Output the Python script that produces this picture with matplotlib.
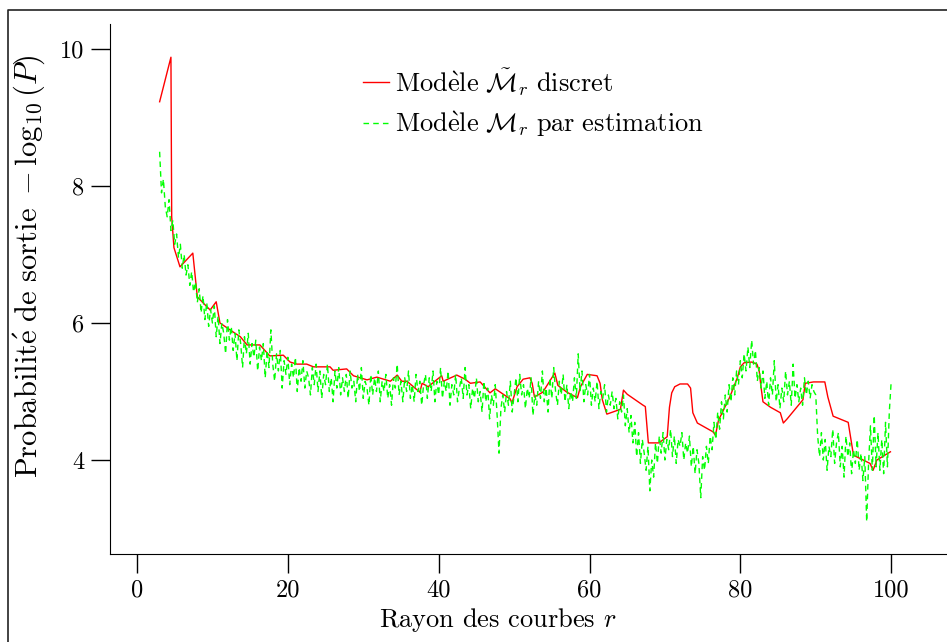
import matplotlib
matplotlib.use("Agg")
import matplotlib.pyplot as plt
from matplotlib.lines import Line2D

plt.rcParams['font.family'] = ['cmr10', 'DejaVu Serif']
plt.rcParams['mathtext.fontset'] = 'cm'
plt.rcParams['axes.unicode_minus'] = False

# discrete model (red)
red_x = [3.0, 4.5, 4.6, 4.9, 5.7, 7.4, 8.0, 9.7, 10.5, 11.0, 13.0, 13.7, 14.6, 16.3,
         17.6, 19.4, 20.3, 21.2, 22.5, 23.4, 25.6, 26.0, 27.8, 28.7, 30.5, 31.8,
         33.6, 34.5, 35.1, 35.8, 37.5, 37.8, 38.6, 40.4, 40.6, 42.4, 43.5, 44.2,
         45.5, 46.8, 47.5, 49.5, 49.7, 50.4, 51.2, 52.1, 52.4, 52.7, 53.8, 55.4,
         55.8, 57.0, 58.4, 58.8, 59.7, 61.0, 61.4, 61.7, 62.3, 64.1, 64.5, 65.0,
         67.1, 67.4, 67.8, 69.2, 70.3, 70.6, 70.9, 71.3, 72.0, 73.0, 73.4, 73.7,
         74.3, 76.4, 76.7, 77.1, 78.6, 79.6, 80.0, 80.5, 81.5, 82.2, 82.5, 82.7,
         83.0, 84.0, 85.3, 85.7, 86.2, 88.3, 88.6, 89.7, 91.2, 91.6, 92.3, 94.3,
         95.0, 97.2, 97.6, 98.1, 99.9]
red_y = [9.23, 9.88, 7.55, 7.10, 6.82, 7.02, 6.38, 6.19, 6.31, 6.00, 5.85, 5.80, 5.68, 5.68,
         5.52, 5.53, 5.43, 5.40, 5.40, 5.36, 5.36, 5.31, 5.33, 5.23, 5.17, 5.21,
         5.15, 5.24, 5.15, 5.15, 4.99, 5.12, 5.07, 5.23, 5.15, 5.24, 5.18, 5.12,
         5.14, 4.98, 5.04, 4.89, 4.83, 5.07, 5.18, 5.20, 5.12, 4.92, 4.99, 5.27,
         5.09, 4.99, 4.91, 5.07, 5.25, 5.23, 5.12, 4.88, 4.67, 4.74, 5.02, 4.96,
         4.80, 4.78, 4.25, 4.25, 4.34, 4.77, 4.98, 5.07, 5.11, 5.11, 5.05, 4.69,
         4.54, 4.41, 4.36, 4.58, 4.92, 5.20, 5.36, 5.42, 5.43, 5.40, 5.30, 5.10,
         4.85, 4.77, 4.69, 4.54, 4.60, 4.88, 5.12, 5.14, 5.14, 4.92, 4.64, 4.55,
         4.07, 3.95, 3.85, 4.00, 4.12]

# estimated model (green), sampled every 0.25 from r = 3 to r = 100
green_y = [8.50, 7.90, 8.10, 7.70, 7.55, 7.80, 7.35, 7.50, 7.15, 7.30,
           6.95, 7.15, 6.80, 7.00, 6.70, 6.85, 6.55, 6.75, 6.45, 6.60,
           6.30, 6.50, 6.15, 6.40, 6.05, 6.30, 5.95, 6.20, 6.00, 6.25,
           5.80, 6.10, 5.70, 6.00, 5.85, 5.55, 6.05, 5.75, 5.95, 5.60,
           5.85, 5.45, 5.90, 5.70, 5.35, 5.80, 5.55, 5.85, 5.40, 5.70,
           5.50, 5.75, 5.30, 5.65, 5.45, 5.70, 5.20, 5.60, 5.35, 5.90,
           5.40, 5.15, 5.55, 5.30, 5.60, 5.05, 5.45, 5.25, 5.50, 5.10,
           5.40, 5.20, 5.50, 5.00, 5.35, 5.15, 5.45, 5.05, 5.30, 5.20,
           4.95, 5.35, 5.10, 5.40, 5.00, 5.30, 4.90, 5.25, 5.10, 5.40,
           5.00, 5.20, 4.85, 5.30, 5.05, 5.35, 4.95, 5.20, 5.00, 5.25,
           4.90, 5.30, 5.05, 5.15, 4.85, 5.25, 5.00, 5.35, 4.90, 5.15,
           5.05, 4.80, 5.25, 4.95, 5.20, 5.00, 5.30, 4.85, 5.15, 5.00,
           5.25, 4.90, 5.10, 4.80, 5.20, 5.05, 5.40, 4.95, 5.15, 4.85,
           5.20, 5.00, 5.30, 4.90, 5.10, 4.85, 5.25, 5.00, 5.15, 4.80,
           5.10, 5.25, 4.90, 5.20, 5.00, 5.30, 4.85, 5.15, 4.95, 5.35,
           4.90, 5.15, 5.00, 5.30, 4.80, 5.10, 4.95, 5.25, 4.85, 5.05,
           5.20, 4.90, 5.35, 4.95, 5.10, 4.75, 5.05, 4.90, 5.20, 4.85,
           5.00, 4.70, 5.15, 4.85, 5.05, 4.60, 4.95, 4.80, 5.10, 4.65,
           4.10, 4.75, 4.95, 4.70, 5.00, 4.80, 5.15, 4.70, 4.95, 5.20,
           4.85, 5.25, 4.95, 5.10, 4.75, 5.05, 4.90, 5.20, 4.65, 4.95,
           4.80, 5.15, 4.90, 5.30, 4.85, 5.05, 4.70, 5.20, 4.90, 5.35,
           5.00, 4.80, 5.15, 4.95, 5.25, 4.85, 5.10, 4.75, 5.00, 4.85,
           5.20, 4.90, 5.55, 5.00, 5.30, 4.85, 5.10, 4.95, 5.25, 4.80,
           5.05, 4.85, 5.15, 4.75, 5.00, 4.90, 5.10, 4.70, 4.95, 4.80,
           5.00, 4.75, 4.90, 4.60, 4.85, 4.70, 4.95, 4.50, 4.75, 4.40,
           4.65, 4.25, 4.55, 4.05, 4.40, 3.95, 4.30, 4.10, 3.85, 4.20,
           3.55, 4.00, 3.75, 4.25, 3.95, 4.35, 4.10, 4.40, 4.00, 4.30,
           4.15, 4.45, 4.05, 4.35, 3.95, 4.30, 4.20, 4.40, 4.00, 4.25,
           4.10, 4.35, 3.90, 4.20, 3.80, 4.15, 3.95, 3.45, 4.05, 3.85,
           4.20, 3.95, 4.35, 4.15, 4.55, 4.30, 4.70, 4.45, 4.85, 4.60,
           4.95, 4.70, 5.10, 4.85, 5.20, 4.95, 5.30, 5.10, 5.45, 5.20,
           5.55, 5.30, 5.65, 5.35, 5.75, 5.40, 5.60, 5.15, 5.35, 5.05,
           5.30, 4.90, 5.15, 4.80, 5.20, 4.95, 5.45, 4.85, 5.10, 4.75,
           5.05, 4.85, 5.30, 4.95, 5.15, 4.80, 5.40, 4.90, 5.10, 4.85,
           5.05, 4.80, 5.20, 4.95, 5.15, 4.90, 5.10, 5.00, 4.95, 4.35,
           4.05, 4.40, 4.00, 4.30, 3.85, 4.20, 4.05, 4.45, 3.95, 4.25,
           4.40, 3.90, 4.20, 3.75, 4.35, 4.05, 4.25, 3.80, 4.15, 3.95,
           4.30, 3.85, 4.10, 3.70, 4.05, 3.10, 3.95, 4.50, 3.85, 4.65,
           3.90, 4.40, 3.85, 4.30, 3.80, 4.55, 3.90, 4.70, 5.15]
green_x = [3.0 + 0.25 * i for i in range(len(green_y))]

x_ticks = [0, 20, 40, 60, 80, 100]
y_ticks = [4, 6, 8, 10]

W, H = 947, 642
fig = plt.figure(figsize=(W / 100, H / 100), dpi=100)
ax = fig.add_axes([110 / W, 1 - 554 / H, 1 - 110 / W, (554 - 24) / H])

ax.plot(red_x, red_y, color='#ff0000', lw=1.0,
        label=r'$\mathrm{Mod\grave{e}le}\ \tilde{\mathcal{M}}_r\ \mathrm{discret}$')
ax.plot(green_x, green_y, color='#00ff00', lw=1.0, ls=(0, (4, 3)),
        label=r'$\mathrm{Mod\grave{e}le}\ \mathcal{M}_r\ \mathrm{par\ estimation}$')

ax.set_xlim(-3.58, 107.4)
ax.set_ylim(2.628, 10.365)
ax.set_xticks(x_ticks)
ax.set_yticks(y_ticks)
for s in ['top', 'right']:
    ax.spines[s].set_visible(False)
ax.tick_params(direction='out', length=13.5, width=1.0, labelsize=17.5, pad=5)

ax.legend(loc='upper left', bbox_to_anchor=(363 / W, 1 - 66 / H),
          bbox_transform=fig.transFigure, frameon=False, fontsize=19,
          handlelength=1.0, handletextpad=0.2, borderpad=0, borderaxespad=0,
          labelspacing=0.45)

fig.text(498 / W, 1 - 620 / H, r'Rayon des courbes $r$', fontsize=19,
         ha='center', va='center')
fig.text(29 / W, 1 - 266 / H,
         r'$\mathrm{Probabilit\acute{e}\ de\ sortie}\ -\log_{10}(P)$',
         fontsize=22, rotation=90, ha='center', va='center')

# outer frame (only left and top edges show in the crop)
fig.add_artist(Line2D([8 / W, 8 / W, 1.0], [0.0, 1 - 10 / H, 1 - 10 / H],
                      transform=fig.transFigure, color='#222222', lw=1.2))

fig.savefig('out.png', dpi=100)
